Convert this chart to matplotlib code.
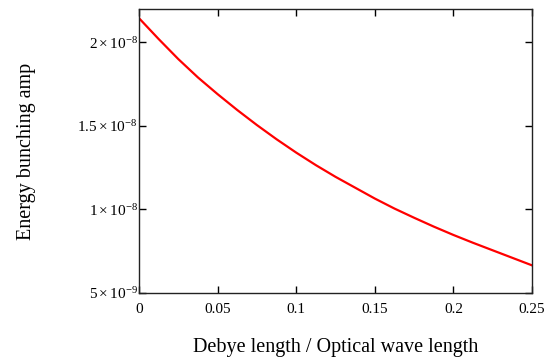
import numpy as np
import matplotlib
matplotlib.use("Agg")
import matplotlib.pyplot as plt

plt.rcParams['font.family'] = ['Liberation Serif', 'DejaVu Serif']
plt.rcParams['mathtext.fontset'] = 'custom'
plt.rcParams['mathtext.rm'] = 'Liberation Serif'
plt.rcParams['mathtext.it'] = 'Liberation Serif:italic'

# data
ratio = [0.0, 0.0125, 0.025, 0.0375, 0.05, 0.0625, 0.075, 0.0875, 0.1,
         0.1125, 0.125, 0.1375, 0.15, 0.1625, 0.175, 0.1875, 0.2,
         0.2125, 0.225, 0.2375, 0.25]
amp = [2.145e-8, 2.02e-8, 1.90e-8, 1.79e-8, 1.69e-8, 1.595e-8, 1.505e-8,
       1.42e-8, 1.34e-8, 1.265e-8, 1.195e-8, 1.13e-8, 1.065e-8, 1.005e-8,
       0.95e-8, 0.897e-8, 0.847e-8, 0.80e-8, 0.755e-8, 0.71e-8, 0.665e-8]

xticks = [0, 0.05, 0.1, 0.15, 0.2, 0.25]
xticklabels = ['0', '0.05', '0.1', '0.15', '0.2', '0.25']
yticks = [5e-9, 1e-8, 1.5e-8, 2e-8]
yticklabels = [r'$5\times10^{-9}$', r'$1\times10^{-8}$',
               r'$1.5\times10^{-8}$', r'$2\times10^{-8}$']

fig = plt.figure(figsize=(5.56, 3.59), dpi=100)
ax = fig.add_axes([0.25, 0.184, 0.707, 0.791])

ax.plot(ratio, amp, color='#ff0000', lw=1.6)

ax.set_xlim(0, 0.25)
ax.set_ylim(5e-9, 2.2e-8)
ax.set_xticks(xticks)
ax.set_xticklabels(xticklabels)
ax.set_yticks(yticks)
ax.set_yticklabels(yticklabels)
ax.tick_params(direction='in', length=5, width=1, top=True, right=True,
               labelsize=11)
ax.tick_params(axis='x', pad=7)
ax.tick_params(axis='y', pad=1)
for s in ax.spines.values():
    s.set_linewidth(1.0)
    s.set_color('#222222')

ax.set_xlabel('Debye length / Optical wave length', fontsize=14.5, labelpad=16)
ax.set_ylabel('Energy bunching amp', fontsize=14.5, labelpad=30)

fig.savefig('out.png', dpi=100)
